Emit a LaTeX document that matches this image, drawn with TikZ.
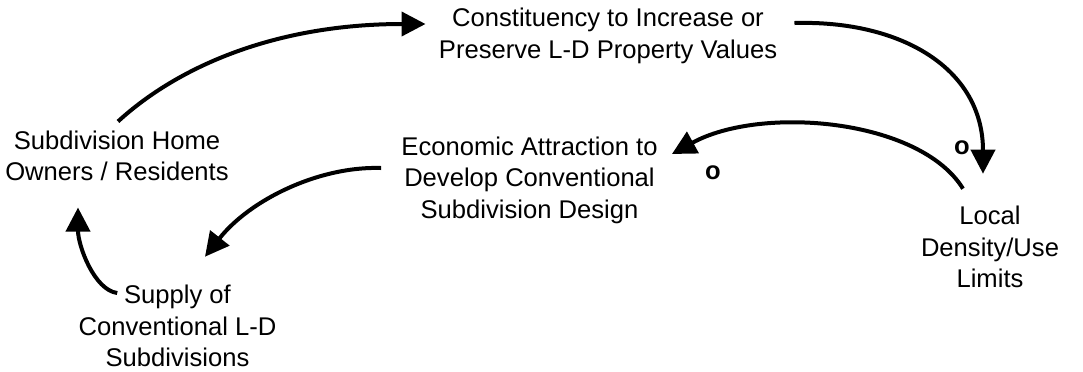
\documentclass[tikz,border=0pt]{standalone}
\usepackage{fontspec}
\setmainfont{Liberation Sans}
\usetikzlibrary{arrows.meta,calc}

\begin{document}
\begin{tikzpicture}[x=0.5pt,y=-0.5pt,
          var/.style={align=center,inner sep=2pt,
                      font=\fontsize{12.8}{15.75}\selectfont},
          lnk/.style={-{Triangle[length=12pt,width=12pt]},line width=2pt},
          sgn/.style={inner sep=0pt,font=\fontsize{12.8}{15}\selectfont\bfseries}]
        \useasboundingbox (0,0) rectangle (1083,371);
        \node[var] (const) at (608,36) {Constituency to Increase or\\Preserve L-D Property Values};
        \node[var] (home) at (117,156) {Subdivision Home\\Owners / Residents};
        \node[var] (econ) at (529.5,180) {Economic Attraction to\\Develop Conventional\\Subdivision Design};
        \node[var] (local) at (990,247) {Local\\Density/Use\\Limits};
        \node[var] (supply) at (177.5,326) {Supply of\\Conventional L-D\\Subdivisions};
        % links of the loop
        \draw[lnk] ($(home.north)+(1,-5)$) .. controls +(60,-55) and +(-150,0)
            .. ($(const.west)+(-9,-12)$);
        \draw[lnk] ($(const.east)+(13,-13)$) .. controls +(107,-3) and +(0,-105)
            .. ($(local.north)+(-7,-28)$);
        \draw[lnk] ($(local.north)+(-27,-13)$) .. controls +(-43,-70) and +(89,-49)
            .. ($(econ.east)+(10,-26)$);
        \draw[lnk] ($(econ.west)+(-16,-12)$) .. controls +(-62,-2) and +(45,-57)
            .. ($(supply.north)+(27.5,-24)$);
        \draw[lnk] ($(supply.west)+(43,-33)$) .. controls +(-23,-3) and +(0,38)
            .. ($(home.south)+(-39,22)$);
        % polarity marks
        \node[sgn] (o1) at (962,148) {o};
        \node[sgn] (o2) at (713,173) {o};
      \end{tikzpicture}
\end{document}
